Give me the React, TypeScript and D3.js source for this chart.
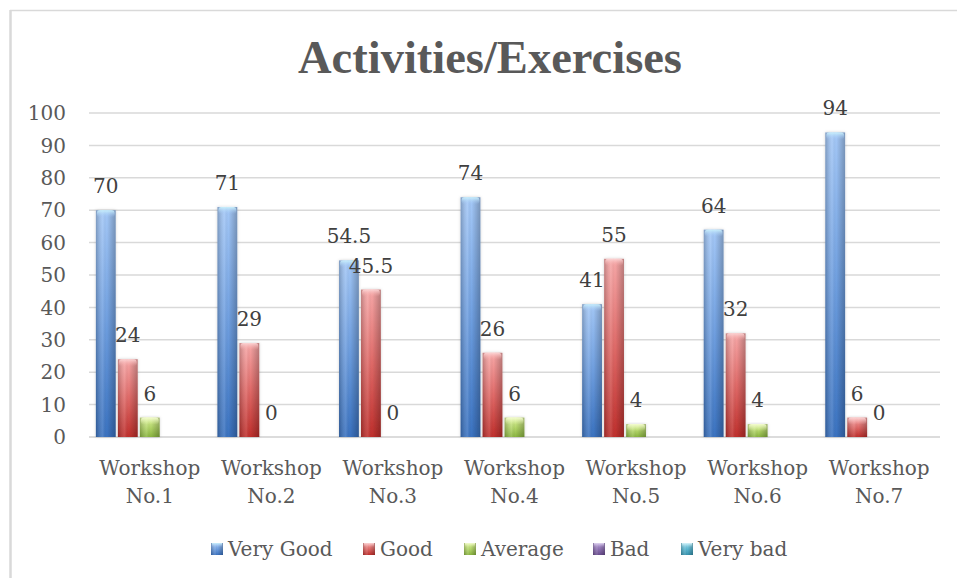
import React from "react";
import * as d3 from "d3";

const categories = ["Workshop No.1", "Workshop No.2", "Workshop No.3", "Workshop No.4", "Workshop No.5", "Workshop No.6", "Workshop No.7"];
const seriesNames = ["Very Good", "Good", "Average", "Bad", "Very bad"];
const veryGood = [70, 71, 54.5, 74, 41, 64, 94];
const good = [24, 29, 45.5, 26, 55, 32, 6];
const average = [6, 0, 0, 6, 4, 4, 0];
const bad: (number | null)[] = [null, null, null, null, null, null, null];
const veryBad: (number | null)[] = [null, null, null, null, null, null, null];
const yTicks = [0, 10, 20, 30, 40, 50, 60, 70, 80, 90, 100];

const seriesValues = [veryGood, good, average, bad, veryBad];
const palette = [
  { top: "#a4c8f7", mid: "#6f9fe0", bottom: "#3a72c0", cap: "#c9f0fb" },
  { top: "#f7a8a8", mid: "#e06a68", bottom: "#bf2f2c", cap: "#fbd4d4" },
  { top: "#dcf29e", mid: "#b4d66a", bottom: "#8ab540", cap: "#f3fbd0" },
  { top: "#b9a3d8", mid: "#8f72b4", bottom: "#6a4d8f", cap: "#e1d6f0" },
  { top: "#9fdcec", mid: "#5cb8d2", bottom: "#3793ae", cap: "#d6f3fa" },
];

const W = 957;
const H = 578;
const left = 89;
const right = 940;
const y0 = 437;
const y100 = 113;

export default function App() {
  const x = d3.scaleBand<string>().domain(categories).range([left, right]).padding(0);
  const bw = x.bandwidth();
  const step = 22;
  const po = (bw / step - 5 + 0.1) / 2;
  const xs = d3.scaleBand<string>().domain(seriesNames).range([0, bw]).paddingInner(0.1).paddingOuter(po);
  const y = d3.scaleLinear().domain([0, 100]).range([y0, y100]);
  const font = "'DejaVu Serif', serif";

  const legendX = [211, 363, 464, 593, 681];

  return (
    <div style={{ position: "fixed", left: 0, top: 0 }}>
      <svg width={W} height={H} style={{ display: "block", background: "#fff" }}>
        <defs>
          {palette.map((p, i) => (
            <linearGradient key={"v" + i} id={"gv" + i} x1="0" y1="0" x2="0" y2="1">
              <stop offset="0" stopColor={p.top} />
              <stop offset="0.5" stopColor={p.mid} />
              <stop offset="1" stopColor={p.bottom} />
            </linearGradient>
          ))}
          {palette.map((p, i) => (
            <linearGradient key={"c" + i} id={"gc" + i} x1="0" y1="0" x2="0" y2="1">
              <stop offset="0" stopColor={p.cap} stopOpacity="1" />
              <stop offset="1" stopColor={p.top} stopOpacity="0" />
            </linearGradient>
          ))}
          <linearGradient id="gh" x1="0" y1="0" x2="1" y2="0">
            <stop offset="0" stopColor="#000" stopOpacity="0.22" />
            <stop offset="0.35" stopColor="#fff" stopOpacity="0.12" />
            <stop offset="0.55" stopColor="#000" stopOpacity="0" />
            <stop offset="1" stopColor="#000" stopOpacity="0.25" />
          </linearGradient>
          <filter id="sh" x="-30%" y="-10%" width="160%" height="120%">
            <feDropShadow dx="0" dy="0" stdDeviation="1.8" floodColor="#000" floodOpacity="0.18" />
          </filter>
        </defs>

        {/* chart border */}
        <line x1={10} y1={10.5} x2={W} y2={10.5} stroke="#d9d9d9" strokeWidth={1.5} />
        <line x1={10.5} y1={10} x2={10.5} y2={H} stroke="#d9d9d9" strokeWidth={2.5} />

        {/* title */}
        <text x={490} y={73} textAnchor="middle" fontFamily="'Liberation Serif', serif" fontWeight="bold" fontSize={46.5} fill="#595959">
          Activities/Exercises
        </text>

        {/* gridlines */}
        {yTicks.map((t) => (
          <line key={"g" + t} x1={left} x2={right} y1={y(t)} y2={y(t)} stroke={t === 0 ? "#d0d0d0" : "#d9d9d9"} strokeWidth={1.5} />
        ))}

        {/* y tick labels */}
        {yTicks.map((t) => (
          <text key={"t" + t} x={66} y={y(t)} dy="0.36em" textAnchor="end" fontFamily={font} fontSize={20} fill="#595959">
            {t}
          </text>
        ))}

        {/* bars */}
        {categories.map((c) => (
          <g key={c}>
            {seriesNames.map((s, si) => {
              const v = seriesValues[si][categories.indexOf(c)];
              if (v == null) return null;
              const bx = (x(c) as number) + (xs(s) as number);
              const w = xs.bandwidth();
              const top = y(v);
              const h = y0 - top;
              return (
                <g key={s}>
                  {h > 0 && (
                    <g filter="url(#sh)">
                      <rect x={bx} y={top} width={w} height={h} fill={`url(#gv${si})`} />
                      <rect x={bx} y={top} width={w} height={h} fill="url(#gh)" />
                      <rect x={bx + 1} y={top} width={w - 2} height={Math.min(7, h)} rx={3} fill={`url(#gc${si})`} />
                    </g>
                  )}
                </g>
              );
            })}
          </g>
        ))}

        {/* data labels */}
        {categories.map((c) => (
          <g key={"l" + c}>
            {seriesNames.map((s, si) => {
              const v = seriesValues[si][categories.indexOf(c)];
              if (v == null) return null;
              const cx = (x(c) as number) + (xs(s) as number) + xs.bandwidth() / 2;
              return (
                <text key={s} x={cx} y={y(v) - 17} textAnchor="middle" fontFamily={font} fontSize={20} fill="#404040">
                  {v}
                </text>
              );
            })}
          </g>
        ))}

        {/* category labels */}
        {categories.map((c) => {
          const cx = (x(c) as number) + bw / 2;
          const parts = c.split(" ");
          return (
            <text key={"c" + c} x={cx} textAnchor="middle" fontFamily={font} fontSize={20} fill="#595959">
              <tspan x={cx} y={475}>{parts[0]}</tspan>
              <tspan x={cx} y={503}>{parts[1]}</tspan>
            </text>
          );
        })}

        {/* legend */}
        {seriesNames.map((s, si) => (
          <g key={"lg" + s}>
            <rect x={legendX[si]} y={543} width={12} height={12} fill={`url(#gv${si})`} />
            <rect x={legendX[si]} y={543} width={12} height={12} fill="url(#gh)" />
            <rect x={legendX[si] + 1} y={543} width={10} height={4} fill={`url(#gc${si})`} />
            <text x={legendX[si] + 17} y={556} fontFamily={font} fontSize={20} fill="#595959">
              {s}
            </text>
          </g>
        ))}
      </svg>
    </div>
  );
}
